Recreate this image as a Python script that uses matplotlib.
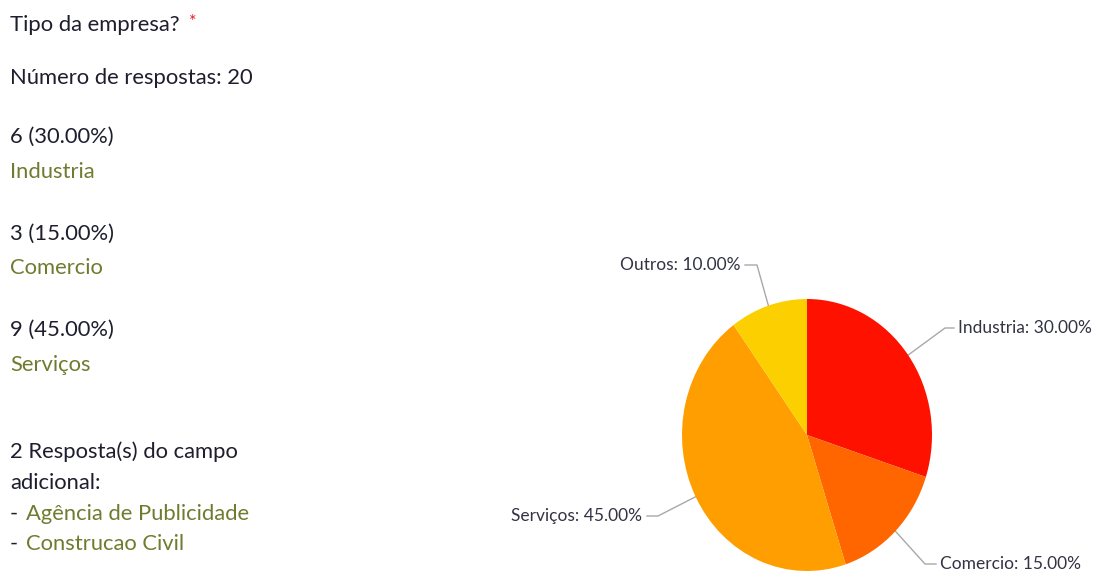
import numpy as np
import matplotlib.pyplot as plt

# resultados da pergunta "Tipo da empresa?"
categorias = ["Industria", "Comercio", "Serviços", "Outros"]
respostas = [6, 3, 9, 2]
cores = ["#ff1100", "#ff6600", "#ff9e00", "#fcd000"]
extras = ["Agência de Publicidade", "Construcao Civil"]
total = sum(respostas)
pct = [100.0 * r / total for r in respostas]

W, H = 1098, 573
TXT = "#1e1e2e"
VERDE = "#6f7c30"
LINHA = "#a8a8a8"

plt.rcParams['font.family'] = ['Lato', 'DejaVu Sans']

fig = plt.figure(figsize=(W / 100, H / 100), dpi=100)
fig.patch.set_facecolor("white")

# camada em pixels para textos e linhas de ligacao
ov = fig.add_axes([0, 0, 1, 1])
ov.set_xlim(0, W)
ov.set_ylim(H, 0)
ov.axis("off")

# coluna de texto da esquerda
fs = 15.8
ov.text(10, 25, "Tipo da empresa?", fontsize=fs, color=TXT, va="center")
ov.text(189, 22, "*", fontsize=13, color="#e02020", va="center")
ov.text(10, 78, f"Número de respostas: {total}", fontsize=fs, color=TXT, va="center")

y = 137
for i in range(3):
    ov.text(10, y, f"{respostas[i]} ({pct[i]:.2f}%)", fontsize=fs, color=TXT, va="center")
    ov.text(10, y + 35, categorias[i], fontsize=fs, color=VERDE, va="center")
    y += 96.5

ov.text(10, 452, f"{len(extras)} Resposta(s) do campo", fontsize=fs, color=TXT, va="center")
ov.text(10, 483, "adicional:", fontsize=fs, color=TXT, va="center")
for j, e in enumerate(extras):
    yy = 514 + 30 * j
    ov.text(10, yy, "- ", fontsize=fs, color=TXT, va="center")
    ov.text(26, yy, e, fontsize=fs, color=VERDE, va="center")

# grafico de pizza (eliptico, como no original)
cx, cy, rx, ry = 807, 435, 125, 136
ax = fig.add_axes([(cx - rx) / W, 1 - (cy + ry) / H, 2 * rx / W, 2 * ry / H])
wedges, _ = ax.pie(respostas, colors=cores, startangle=90, counterclock=False,
                   radius=1, wedgeprops=dict(linewidth=0))
ax.set_xlim(-1, 1)
ax.set_ylim(-1, 1)
ax.set_aspect("auto")
ax.axis("off")

# rotulos: a linha sai do meio de cada fatia, dobra no cotovelo e segue ate o texto
cotovelo = [(945, 328), (925, 564), (658, 516), (757, 265)]
texto_x = [958, 940, 642, 740]
alinh = ["left", "left", "right", "right"]

for k, w in enumerate(wedges):
    a = np.deg2rad((w.theta1 + w.theta2) / 2)
    px = cx + rx * np.cos(a)
    py = cy - ry * np.sin(a)
    ex, ey = cotovelo[k]
    hx = texto_x[k] + (-4 if alinh[k] == "left" else 5)
    ov.plot([px, ex, hx], [py, ey, ey], color=LINHA, lw=1)
    ov.text(texto_x[k], ey, f"{categorias[k]}: {pct[k]:.2f}%", fontsize=12.5,
            color="#333344", ha=alinh[k], va="center")

fig.savefig("out.png", dpi=100, facecolor="white")
